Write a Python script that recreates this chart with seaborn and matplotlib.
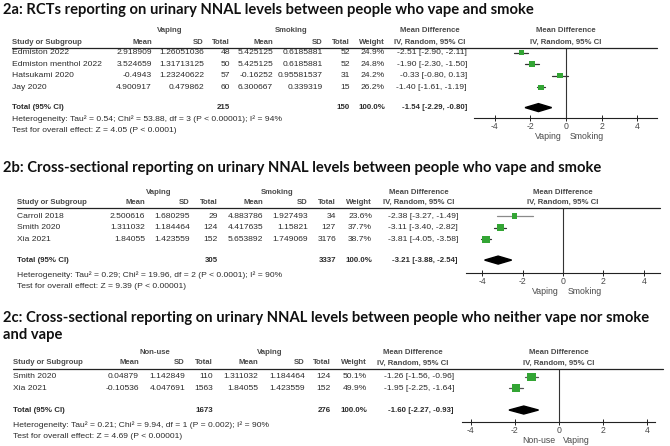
import matplotlib
matplotlib.use("Agg")
import matplotlib.pyplot as plt
import matplotlib.transforms as mtransforms
import seaborn as sns
import pandas as pd

# ---- 2a : RCTs, vaping vs smoking
a_study = ["Edmiston 2022", "Edmiston menthol 2022", "Hatsukami 2020", "Jay 2020"]
a_mean1 = ["2.918909", "3.524659", "-0.4943", "4.900917"]
a_sd1 = ["1.26051036", "1.31713125", "1.23240622", "0.479862"]
a_n1 = [48, 50, 57, 60]
a_mean2 = ["5.425125", "5.425125", "-0.16252", "6.300667"]
a_sd2 = ["0.6185881", "0.6185881", "0.95581537", "0.339319"]
a_n2 = [52, 52, 31, 15]
a_weight = [24.9, 24.8, 24.2, 26.2]
a_md = [-2.51, -1.90, -0.33, -1.40]
a_lo = [-2.90, -2.30, -0.80, -1.61]
a_hi = [-2.11, -1.50, 0.13, -1.19]
a_total = (215, 150, -1.54, -2.29, -0.80)

# ---- 2b : cross-sectional, vaping vs smoking
b_study = ["Carroll 2018", "Smith 2020", "Xia 2021"]
b_mean1 = ["2.500616", "1.311032", "1.84055"]
b_sd1 = ["1.680295", "1.184464", "1.423559"]
b_n1 = [29, 124, 152]
b_mean2 = ["4.883786", "4.417635", "5.653892"]
b_sd2 = ["1.927493", "1.15821", "1.749069"]
b_n2 = [34, 127, 3176]
b_weight = [23.6, 37.7, 38.7]
b_md = [-2.38, -3.11, -3.81]
b_lo = [-3.27, -3.40, -4.05]
b_hi = [-1.49, -2.82, -3.58]
b_total = (305, 3337, -3.21, -3.88, -2.54)

# ---- 2c : cross-sectional, non-use vs vaping
c_study = ["Smith 2020", "Xia 2021"]
c_mean1 = ["0.04879", "-0.10536"]
c_sd1 = ["1.142849", "4.047691"]
c_n1 = [110, 1563]
c_mean2 = ["1.311032", "1.84055"]
c_sd2 = ["1.184464", "1.423559"]
c_n2 = [124, 152]
c_weight = [50.1, 49.9]
c_md = [-1.26, -1.95]
c_lo = [-1.56, -2.25]
c_hi = [-0.96, -1.64]
c_total = (1673, 276, -1.60, -2.27, -0.93)

W, H = 670, 446
sns.set_theme(style="white")
plt.rcParams["font.family"] = ["Liberation Sans", "DejaVu Sans"]
FS = 6.1
FSB = 5.6
TXT = "#2b2b2b"
HDR = "#4a4a4a"
GREEN = "#33a534"

fig = plt.figure(figsize=(W / 100, H / 100), dpi=100)


def fx(x):
    return x / W


def fy(y):
    return 1 - y / H


def panel(title_lines, groups, rows, total, het, favours, lay):
    study, m1, s1, n1, m2, s2, n2, wt, md, lo, hi = rows
    df = pd.DataFrame({"study": study, "md": md, "lo": lo, "hi": hi, "weight": wt})
    df["row"] = range(len(df))
    n = len(df)
    step = lay["step"]

    # titles
    for t, ty in title_lines:
        fig.text(fx(3), fy(ty), t, fontsize=10.6, fontweight="bold", family=["Lato", "DejaVu Sans"],
                 va="center", ha="left", color="#111111")

    # forest axes from header rule down to the x axis
    x0, x1 = lay["ax_x"]
    ax = fig.add_axes([fx(x0), fy(lay["axis_y"]), fx(x1) - fx(x0), (lay["axis_y"] - lay["line_y"]) / H])
    ax.set_xlim(*lay["xlim"])
    ax.set_ylim((lay["axis_y"] - lay["row0"]) / step, -(lay["row0"] - lay["line_y"]) / step)
    ax.set_facecolor("none")
    for s in ["top", "left", "right"]:
        ax.spines[s].set_visible(False)
    ax.spines["bottom"].set_color("#222222")
    ax.spines["bottom"].set_linewidth(0.8)
    ax.set_yticks([])
    ax.set_xticks([-4, -2, 0, 2, 4])
    ax.set_xticklabels(["-4", "-2", "0", "2", "4"])
    ax.tick_params(axis="x", direction="inout", length=5, width=0.7, pad=0.5,
                   labelsize=FS + 0.2, labelcolor=HDR, color="#222222", bottom=True)
    ax.axvline(0, color="#333333", lw=0.8, zorder=1)

    ci_cols = lay.get("ci_cols", ["#333333"] * n)
    for i, r in df.iterrows():
        ax.plot([r["lo"], r["hi"]], [r["row"], r["row"]], color=ci_cols[i], lw=0.9, zorder=2)
    for i, r in df.iterrows():
        side = 2.0 + 0.13 * r["weight"]
        sns.scatterplot(x=[r["md"]], y=[r["row"]], marker="s", s=(side * 0.72) ** 2,
                        color=GREEN, edgecolor="none", ax=ax, zorder=3, legend=False)
    ax.set_xlabel("")
    ax.set_ylabel("")

    tn1, tn2, tmd, tlo, thi = total
    ty = n + lay["tot_off"]
    hh = 4.0 / step
    ax.fill([tlo, tmd, thi, tmd], [ty, ty - hh, ty, ty + hh], color="black", zorder=3)

    # favours labels
    ax.annotate(favours[0], xy=(0, 0), xycoords=("data", "axes fraction"), xytext=(-3, -13),
                textcoords="offset points", ha="right", va="center", fontsize=FS + 0.2, color=HDR)
    ax.annotate(favours[1], xy=(0, 0), xycoords=("data", "axes fraction"), xytext=(3, -13),
                textcoords="offset points", ha="left", va="center", fontsize=FS + 0.2, color=HDR)

    # table text
    tr = mtransforms.blended_transform_factory(fig.transFigure, ax.transData)
    c = lay["cols"]
    bold = dict(fontsize=FSB, fontweight="bold", color=HDR, va="center")
    fig.text(fx(c["g1"]), fy(lay["group_y"]), groups[0], ha="center", **bold)
    fig.text(fx(c["g2"]), fy(lay["group_y"]), groups[1], ha="center", **bold)
    fig.text(fx(c["mdh"]), fy(lay["group_y"]), "Mean Difference", ha="center", **bold)
    fig.text(fx((x0 + x1) / 2), fy(lay["group_y"]), "Mean Difference", ha="center", **bold)
    hy = fy(lay["head_y"])
    fig.text(fx(c["study"]), hy, "Study or Subgroup", ha="left", **bold)
    for key, lab in [("m1", "Mean"), ("s1", "SD"), ("n1", "Total"), ("m2", "Mean"),
                     ("s2", "SD"), ("n2", "Total"), ("w", "Weight")]:
        fig.text(fx(c[key]), hy, lab, ha="right", **bold)
    fig.text(fx(c["mdh"]), hy, "IV, Random, 95% CI", ha="center", **bold)
    fig.text(fx((x0 + x1) / 2), hy, "IV, Random, 95% CI", ha="center", **bold)
    fig.add_artist(plt.Line2D([fx(c["study"]), fx(lay["line_end"])], [fy(lay["line_y"])] * 2,
                              color="#222222", lw=0.9))

    reg = dict(fontsize=FS, color=TXT, va="center", transform=tr)
    for i in range(n):
        fig.text(fx(c["study"]), i, study[i], ha="left", **reg)
        for key, vals in [("m1", m1), ("s1", s1), ("n1", n1), ("m2", m2), ("s2", s2), ("n2", n2)]:
            fig.text(fx(c[key]), i, str(vals[i]), ha="right", **reg)
        fig.text(fx(c["w"]), i, f"{wt[i]:.1f}%", ha="right", **reg)
        fig.text(fx(c["md"]), i, f"{md[i]:.2f} [{lo[i]:.2f}, {hi[i]:.2f}]", ha="right", **reg)

    breg = dict(fontsize=FSB + 0.1, color=TXT, va="center", fontweight="bold", transform=tr)
    fig.text(fx(c["study"]), ty, "Total (95% CI)", ha="left", **breg)
    fig.text(fx(c["n1"]), ty, str(tn1), ha="right", **breg)
    fig.text(fx(c["n2"]), ty, str(tn2), ha="right", **breg)
    fig.text(fx(c["w"]), ty, "100.0%", ha="right", **breg)
    fig.text(fx(c["md"]), ty, f"{tmd:.2f} [{tlo:.2f}, {thi:.2f}]", ha="right", **breg)

    fig.text(fx(c["study"]), fy(lay["het_y"]), het[0], ha="left", va="center", fontsize=FS, color=TXT)
    fig.text(fx(c["study"]), fy(lay["het_y"] + 11.5), het[1], ha="left", va="center", fontsize=FS, color=TXT)


panel([("2a: RCTs reporting on urinary NNAL levels between people who vape and smoke", 10)],
      ("Vaping", "Smoking"),
      (a_study, a_mean1, a_sd1, a_n1, a_mean2, a_sd2, a_n2, a_weight, a_md, a_lo, a_hi),
      a_total,
      ("Heterogeneity: Tau\u00b2 = 0.54; Chi\u00b2 = 53.88, df = 3 (P < 0.00001); I\u00b2 = 94%",
       "Test for overall effect: Z = 4.05 (P < 0.0001)"),
      ("Vaping", "Smoking"),
      dict(line_y=48, axis_y=118, row0=52.5, step=11.6, tot_off=0.75, ax_x=(474, 657),
           xlim=(-5.15, 5.1), group_y=31, head_y=42, het_y=119, line_end=657,
           cols=dict(study=12, m1=152, s1=204, n1=230, m2=273, s2=323, n2=350, w=385,
                     md=467, g1=170, g2=291, mdh=430)))

panel([("2b: Cross-sectional reporting on urinary NNAL levels between people who vape and smoke", 168)],
      ("Vaping", "Smoking"),
      (b_study, b_mean1, b_sd1, b_n1, b_mean2, b_sd2, b_n2, b_weight, b_md, b_lo, b_hi),
      b_total,
      ("Heterogeneity: Tau\u00b2 = 0.29; Chi\u00b2 = 19.96, df = 2 (P < 0.0001); I\u00b2 = 90%",
       "Test for overall effect: Z = 9.39 (P < 0.00001)"),
      ("Vaping", "Smoking"),
      dict(line_y=208, axis_y=273, row0=216, step=11.6, tot_off=0.8, ax_x=(466, 660),
           xlim=(-4.8, 4.8), group_y=192, head_y=202, het_y=275, line_end=660,
           ci_cols=["#8a8a8a", "#333333", "#333333"],
           cols=dict(study=17, m1=145, s1=190, n1=218, m2=263, s2=308, n2=336, w=372,
                     md=458, g1=159, g2=277, mdh=419)))

panel([("2c: Cross-sectional reporting on urinary NNAL levels between people who neither vape nor smoke", 318),
       ("and vape", 335)],
      ("Non-use", "Vaping"),
      (c_study, c_mean1, c_sd1, c_n1, c_mean2, c_sd2, c_n2, c_weight, c_md, c_lo, c_hi),
      c_total,
      ("Heterogeneity: Tau\u00b2 = 0.21; Chi\u00b2 = 9.94, df = 1 (P = 0.002); I\u00b2 = 90%",
       "Test for overall effect: Z = 4.69 (P < 0.00001)"),
      ("Non-use", "Vaping"),
      dict(line_y=369, axis_y=422, row0=377, step=11.2, tot_off=0.95, ax_x=(462, 655),
           xlim=(-4.4, 4.35), group_y=352, head_y=363, het_y=425, line_end=663,
           ci_cols=["#555555", "#555555"],
           cols=dict(study=13, m1=139, s1=185, n1=213, m2=258, s2=305, n2=331, w=367,
                     md=454, g1=155, g2=270, mdh=413)))

fig.savefig("out.png", dpi=100, facecolor="white")
